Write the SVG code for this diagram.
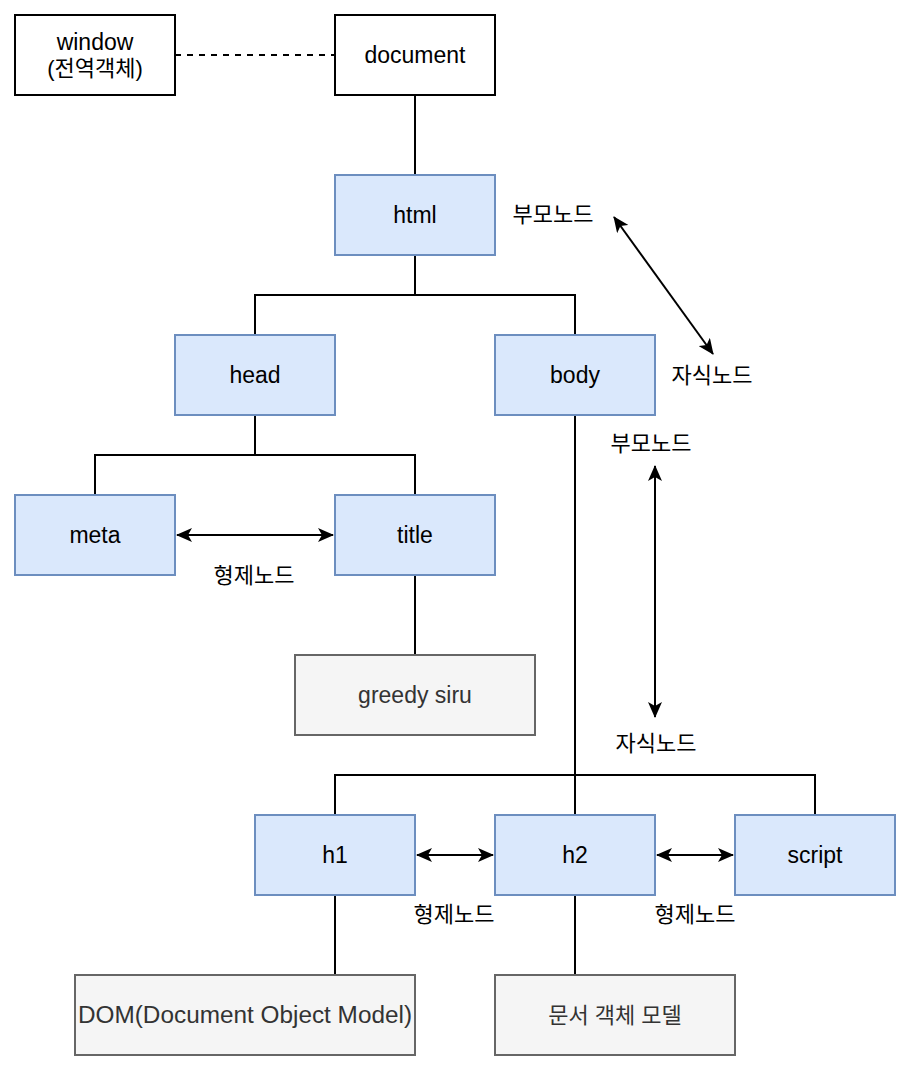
<svg xmlns="http://www.w3.org/2000/svg" width="908" height="1070" viewBox="0 0 908 1070">
  <defs>
    <style>
      .plain { fill: #ffffff; stroke: #000000; stroke-width: 2; }
      .blue { fill: #dae8fc; stroke: #6c8ebf; stroke-width: 2; }
      .gray { fill: #f5f5f5; stroke: #666666; stroke-width: 2; }
      .lbl { font-family: "Liberation Sans", "Noto Sans CJK KR", sans-serif; font-size: 23px; fill: #000000; text-anchor: middle; dominant-baseline: central; }
      .ko { font-size: 22px; }
      .glbl { fill: #333333; }
      .wire { fill: none; stroke: #000000; stroke-width: 2; }
      .dash { stroke-dasharray: 6 6; }
      .arrow { fill: none; stroke: #000000; stroke-width: 2; marker-start: url(#head); marker-end: url(#head); }
    </style>
    <marker id="head" viewBox="0 0 16 14" refX="15" refY="7" markerWidth="16" markerHeight="14" markerUnits="userSpaceOnUse" orient="auto-start-reverse">
      <path d="M0,0 L16,7 L0,14 L4,7 Z" fill="#000000"/>
    </marker>
  </defs>

  <rect width="908" height="1070" fill="#ffffff"/>

  <!-- connectors -->
  <g id="connectors">
    <path class="wire dash" d="M175,55 H335"/>
    <path class="wire" d="M415,95 V175"/>
    <path class="wire" d="M415,255 V295 M255,335 V295 H575 V335"/>
    <path class="wire" d="M255,415 V455 M95,495 V455 H415 V495"/>
    <path class="wire" d="M415,575 V655"/>
    <path class="wire" d="M575,415 V815"/>
    <path class="wire" d="M335,815 V775 H815 V815"/>
    <path class="wire" d="M335,895 V975"/>
    <path class="wire" d="M575,895 V975"/>
    <path class="arrow" d="M177,535 H333"/>
    <path class="arrow" d="M417,855 H493"/>
    <path class="arrow" d="M657,855 H733"/>
    <path class="arrow" d="M614,217 L713,354"/>
    <path class="arrow" d="M655,466 V717"/>
  </g>

  <!-- relation labels -->
  <g id="labels">
    <text class="lbl ko" x="553" y="214">부모노드</text>
    <text class="lbl ko" x="712" y="375">자식노드</text>
    <text class="lbl ko" x="651" y="443">부모노드</text>
    <text class="lbl ko" x="656" y="743">자식노드</text>
    <text class="lbl ko" x="254" y="575">형제노드</text>
    <text class="lbl ko" x="454" y="914">형제노드</text>
    <text class="lbl ko" x="695" y="914">형제노드</text>
  </g>

  <g id="window">
    <rect class="plain" x="15" y="15" width="160" height="80"/>
    <text class="lbl" x="95" y="42">window</text>
    <text class="lbl ko" x="95" y="68">(전역객체)</text>
  </g>
  <g id="document">
    <rect class="plain" x="335" y="15" width="160" height="80"/>
    <text class="lbl" x="415" y="55">document</text>
  </g>
  <g id="html">
    <rect class="blue" x="335" y="175" width="160" height="80"/>
    <text class="lbl" x="415" y="215">html</text>
  </g>
  <g id="head-node">
    <rect class="blue" x="175" y="335" width="160" height="80"/>
    <text class="lbl" x="255" y="375">head</text>
  </g>
  <g id="body">
    <rect class="blue" x="495" y="335" width="160" height="80"/>
    <text class="lbl" x="575" y="375">body</text>
  </g>
  <g id="meta">
    <rect class="blue" x="15" y="495" width="160" height="80"/>
    <text class="lbl" x="95" y="535">meta</text>
  </g>
  <g id="title">
    <rect class="blue" x="335" y="495" width="160" height="80"/>
    <text class="lbl" x="415" y="535">title</text>
  </g>
  <g id="greedy-siru">
    <rect class="gray" x="295" y="655" width="240" height="80"/>
    <text class="lbl glbl" x="415" y="695">greedy siru</text>
  </g>
  <g id="h1">
    <rect class="blue" x="255" y="815" width="160" height="80"/>
    <text class="lbl" x="335" y="855">h1</text>
  </g>
  <g id="h2">
    <rect class="blue" x="495" y="815" width="160" height="80"/>
    <text class="lbl" x="575" y="855">h2</text>
  </g>
  <g id="script">
    <rect class="blue" x="735" y="815" width="160" height="80"/>
    <text class="lbl" x="815" y="855">script</text>
  </g>
  <g id="dom">
    <rect class="gray" x="75" y="975" width="340" height="80"/>
    <text class="lbl glbl" x="245" y="1015" textLength="334" lengthAdjust="spacingAndGlyphs">DOM(Document Object Model)</text>
  </g>
  <g id="dom-ko">
    <rect class="gray" x="495" y="975" width="240" height="80"/>
    <text class="lbl ko glbl" x="615" y="1015">문서 객체 모델</text>
  </g>
</svg>
